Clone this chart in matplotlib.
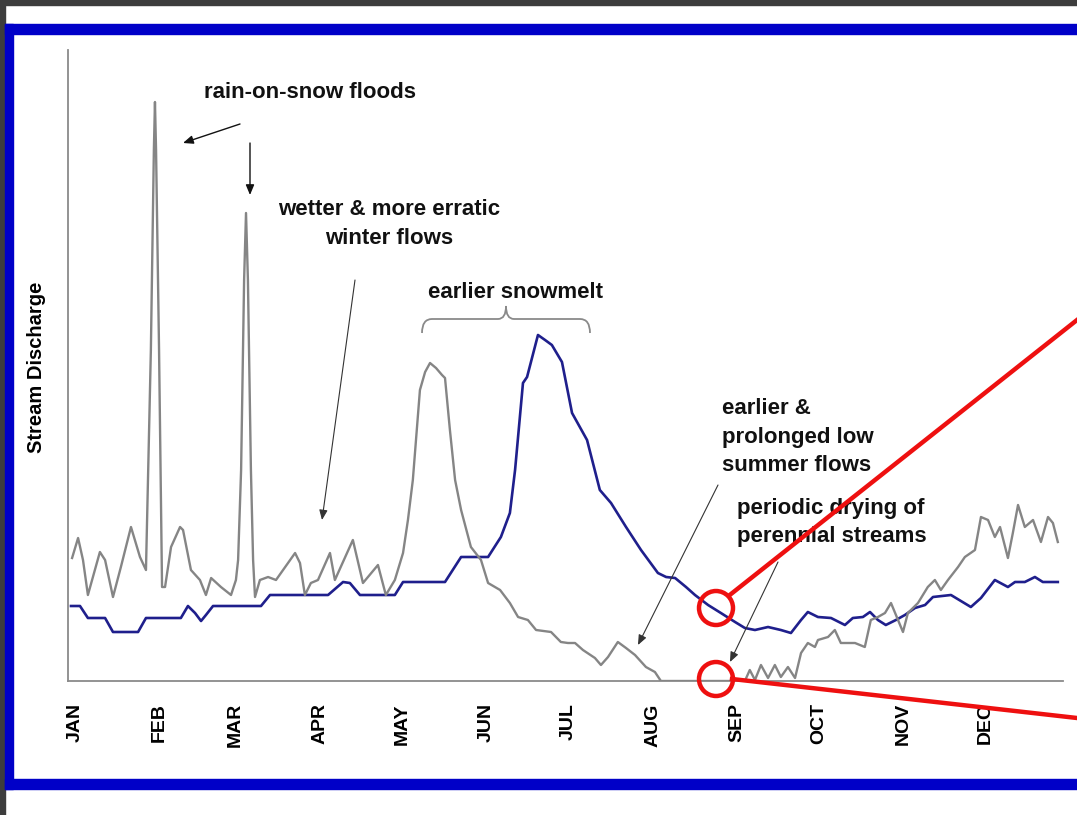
import matplotlib
matplotlib.use('Agg')
import matplotlib.pyplot as plt
from matplotlib.patches import Rectangle, Ellipse, FancyArrowPatch, PathPatch
from matplotlib.path import Path
from matplotlib.lines import Line2D
import numpy as np

# ---------------- data ----------------
month_labels = ['JAN', 'FEB', 'MAR', 'APR', 'MAY', 'JUN',
                'JUL', 'AUG', 'SEP', 'OCT', 'NOV', 'DEC']
month_lengths = [31, 28, 31, 30, 31, 30, 31, 31, 30, 31, 30, 31]

# future (warmer climate) hydrograph - grey line
future_day = [1.5, 3.7, 5.5, 7.3, 11.7, 13.6, 16.5, 19.4, 23.1, 26.4, 28.6,
              30.4, 31.5, 31.9, 32.3, 33.4, 34.5, 35.6, 37.8, 41.1, 42.2,
              45.1, 48.4, 50.6, 52.5, 56.1, 59.8, 61.6, 62.4, 63.5, 64.6,
              65.3, 66.0, 67.1, 67.9, 68.6, 70.4, 73.4, 76.3, 78.9, 83.3,
              85.1, 86.9, 89.1, 91.7, 96.1, 97.9, 104.5, 108.2, 113.7, 116.6,
              119.9, 122.9, 124.7, 126.5, 129.1, 131.0, 132.8, 135.0, 137.2,
              138.3, 140.1, 142.0, 144.2, 147.8, 151.5, 154.1, 158.5, 162.1,
              165.1, 168.7, 171.7, 177.2, 180.8, 183.4, 186.0, 188.9, 193.3,
              195.5, 198.1, 201.7, 204.7, 208.0, 212.0, 215.3, 217.5, 248.3,
              250.1, 252.0, 254.2, 256.8, 259.3, 261.5, 264.1, 266.7, 268.9,
              271.4, 274.0, 275.1, 278.8, 281.3, 283.5, 288.7, 292.3, 294.5,
              297.1, 299.7, 301.9, 304.5, 306.3, 308.1, 311.8, 315.4, 318.0,
              320.2, 322.8, 326.5, 329.0, 332.7, 334.9, 337.5, 340.0, 341.9,
              344.8, 346.6, 348.5, 351.0, 354.0, 356.9, 359.5, 361.3, 363.1]
future_flow = [12.3, 14.3, 12.1, 8.6, 12.9, 12.1, 8.4, 11.4, 15.4, 12.4, 11.1,
               33.1, 53.1, 57.9, 53.1, 33.1, 9.4, 9.4, 13.4, 15.4, 15.1,
               11.1, 10.1, 8.6, 10.3, 9.4, 8.6, 10.1, 12.1, 21.1, 40.1,
               46.8, 40.1, 21.1, 12.1, 8.4, 10.1, 10.4, 10.1, 11.1, 12.8,
               11.8, 8.6, 9.8, 10.1, 12.8, 10.1, 14.1, 9.8, 11.6, 8.6,
               10.1, 12.8, 16.1, 20.1, 29.1, 30.9, 31.8, 31.3, 30.6,
               30.3, 25.1, 20.1, 17.1, 13.4, 12.1, 9.8, 9.1, 7.8,
               6.4, 6.1, 5.1, 4.9, 3.9, 3.8, 3.8, 3.1, 2.3,
               1.6, 2.4, 3.9, 3.3, 2.6, 1.4, 0.9, 0.0, 0.0,
               1.1, 0.1, 1.6, 0.3, 1.6, 0.4, 1.4, 0.3, 2.8,
               3.8, 3.4, 4.1, 4.4, 5.1, 3.8, 3.8, 3.4, 6.1,
               6.4, 6.8, 7.8, 6.1, 4.9, 6.8, 7.8, 9.4, 10.1,
               9.1, 10.1, 11.4, 12.4, 13.1, 16.4, 16.1, 14.4, 15.4,
               12.3, 14.8, 17.6, 15.4, 16.1, 13.9, 16.4, 15.8, 13.9]

# historical hydrograph - blue line
hist_day = [1.1, 4.4, 7.3, 13.6, 16.5, 25.7, 28.6, 41.4, 44.0, 46.6, 48.8,
            50.6, 53.2, 70.8, 74.1, 95.4, 100.9, 103.4, 107.1, 119.9, 122.9,
            138.3, 144.2, 154.1, 158.8, 162.1, 164.0, 166.9, 168.4, 172.4,
            175.0, 177.5, 181.2, 184.9, 190.4, 195.1, 199.2, 204.7, 210.2,
            216.4, 219.4, 222.7, 226.7, 230.0, 234.8, 239.5, 244.7, 248.3,
            252.0, 256.8, 261.5, 265.2, 268.9, 271.4, 275.1, 279.9, 285.0,
            287.9, 291.6, 294.2, 297.1, 300.0, 303.7, 307.0, 310.7, 314.4,
            317.3, 323.9, 331.2, 334.9, 340.0, 344.8, 347.4, 351.0, 354.7,
            357.6, 363.1]
hist_flow = [7.5, 7.5, 6.3, 6.3, 4.9, 4.9, 6.3, 6.3, 7.5, 6.8, 6.0,
             6.6, 7.5, 7.5, 8.6, 8.6, 9.9, 9.8, 8.6, 8.6, 9.9,
             9.9, 12.4, 12.4, 14.4, 16.8, 21.1, 29.8, 30.4, 34.6,
             34.1, 33.6, 31.9, 26.8, 24.1, 19.1, 17.8, 15.4, 13.1,
             10.8, 10.4, 10.3, 9.4, 8.6, 7.6, 6.8, 5.9, 5.3,
             5.1, 5.4, 5.1, 4.8, 6.1, 6.9, 6.4, 6.3, 5.6,
             6.3, 6.4, 6.9, 6.1, 5.6, 6.1, 6.6, 7.3, 7.6,
             8.4, 8.6, 7.4, 8.3, 10.1, 9.4, 9.9, 9.9, 10.4,
             9.9, 9.9]

y_label = 'Stream Discharge'

# ---------------- figure ----------------
W, H = 1077, 815
plt.rcParams['font.family'] = ['Liberation Sans', 'DejaVu Sans']
fig = plt.figure(figsize=(W / 100, H / 100), dpi=100, facecolor='white')


def fx(px):
    return px / W


def fy(py):
    return 1 - py / H


# slide frame
dark = '#3d3d3d'
frame_blue = '#0000c8'
fig.patches.append(Rectangle((0, fy(5)), 1, 5 / H, transform=fig.transFigure,
                             color=dark, zorder=0))
fig.patches.append(Rectangle((0, 0), 5 / W, 1, transform=fig.transFigure,
                             color=dark, zorder=0))
fig.patches.append(Rectangle((fx(5), fy(34)), 1, 10 / H, transform=fig.transFigure,
                             color=frame_blue, zorder=0))
fig.patches.append(Rectangle((fx(5), fy(789)), 8 / W, (789 - 24) / H,
                             transform=fig.transFigure, color=frame_blue, zorder=0))
fig.patches.append(Rectangle((fx(5), fy(789)), 1, 10 / H, transform=fig.transFigure,
                             color=frame_blue, zorder=0))

# axes
ax = fig.add_axes([fx(68), fy(681), fx(1063) - fx(68), fy(50) - fy(681)])
ax.set_facecolor('none')
ax.set_xlim(0, 365)
ax.set_ylim(0, 63.1)

ax.plot(hist_day, hist_flow, color='#1f1f8c', lw=1.9, zorder=3,
        solid_joinstyle='round')
ax.plot(future_day, future_flow, color='#858585', lw=1.7, zorder=4,
        solid_joinstyle='round')

for s in ['top', 'right']:
    ax.spines[s].set_visible(False)
for s in ['left', 'bottom']:
    ax.spines[s].set_color('#8a8a8a')
    ax.spines[s].set_linewidth(1.3)

month_starts = np.concatenate([[0], np.cumsum(month_lengths)[:-1]])
ax.set_xticks(month_starts + 2.5)
ax.set_xticklabels(month_labels, rotation=90, fontsize=14, fontweight='bold')
ax.tick_params(axis='x', length=0, pad=16)
ax.set_yticks([])

fig.text(fx(37), fy(367), y_label, rotation=90, ha='center', va='center',
         fontsize=14.5, fontweight='bold')

# annotations
tkw = dict(fontsize=16, fontweight='bold', color='#111111')
fig.text(fx(310), fy(98), 'rain-on-snow floods', ha='center', va='baseline', **tkw)
fig.text(fx(389), fy(215), 'wetter & more erratic', ha='center', va='baseline', **tkw)
fig.text(fx(389), fy(244), 'winter flows', ha='center', va='baseline', **tkw)
fig.text(fx(515), fy(298), 'earlier snowmelt', ha='center', va='baseline', **tkw)
fig.text(fx(722), fy(414), 'earlier &', ha='left', va='baseline', **tkw)
fig.text(fx(722), fy(443), 'prolonged low', ha='left', va='baseline', **tkw)
fig.text(fx(722), fy(471), 'summer flows', ha='left', va='baseline', **tkw)
fig.text(fx(737), fy(514), 'periodic drying of', ha='left', va='baseline', **tkw)
fig.text(fx(737), fy(542), 'perennial streams', ha='left', va='baseline', **tkw)


def arrow(p0, p1, lw=1.0, color='#111111'):
    a = FancyArrowPatch((fx(p0[0]), fy(p0[1])), (fx(p1[0]), fy(p1[1])),
                        transform=fig.transFigure,
                        arrowstyle='-|>,head_length=0.6,head_width=0.25',
                        mutation_scale=10, lw=lw, color=color,
                        shrinkA=0, shrinkB=0, zorder=6)
    fig.patches.append(a)


arrow((240, 124), (183, 143))
arrow((250, 143), (250, 195))
arrow((355, 280), (322, 520), lw=0.8, color='#333333')
arrow((718, 485), (638, 645), lw=0.8, color='#333333')
arrow((778, 562), (730, 662), lw=0.8, color='#333333')

# curly brace over the snowmelt peaks
bx = [(422, 333), (422, 319), (432, 319), (498, 319), (506, 319), (506, 306),
      (506, 319), (514, 319), (580, 319), (590, 319), (590, 333)]
codes = [Path.MOVETO, Path.CURVE3, Path.CURVE3, Path.LINETO, Path.CURVE3, Path.CURVE3,
         Path.CURVE3, Path.CURVE3, Path.LINETO, Path.CURVE3, Path.CURVE3]
brace = Path([(fx(x), fy(y)) for x, y in bx], codes)
fig.patches.append(PathPatch(brace, transform=fig.transFigure, fill=False,
                             ec='#8a8a8a', lw=1.3, zorder=6))

# red highlight circles and lines
red = '#ee1010'
for cx, cy in [(716, 608), (716, 679)]:
    fig.patches.append(Ellipse((fx(cx), fy(cy)), 34 / W, 34 / H,
                               transform=fig.transFigure, fill=False,
                               ec=red, lw=3.2, zorder=10))
fig.lines.append(Line2D([fx(731), fx(1077)], [fy(594), fy(320)],
                        transform=fig.transFigure, color=red, lw=3.2, zorder=10))
fig.lines.append(Line2D([fx(732), fx(1077)], [fy(679), fy(718)],
                        transform=fig.transFigure, color=red, lw=3.2, zorder=10))

fig.savefig('out.png', dpi=100, facecolor='white')
